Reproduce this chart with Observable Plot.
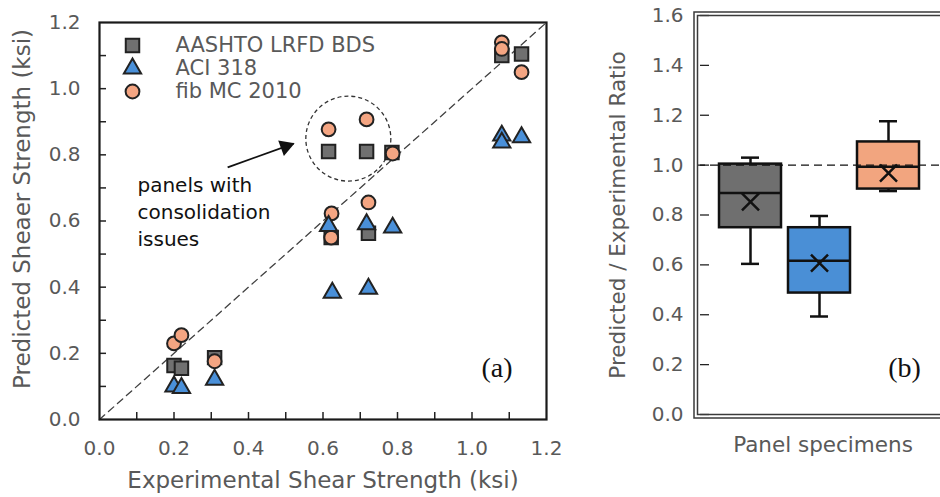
<!DOCTYPE html>
<html><head><meta charset="utf-8">
<script src="https://cdn.jsdelivr.net/npm/d3@7"></script>
<script src="https://cdn.jsdelivr.net/npm/@observablehq/plot@0.6"></script>
<style>
html,body{margin:0;padding:0;background:#fff;width:940px;height:497px;overflow:hidden;position:relative}
#a{position:absolute;left:0;top:0;width:560px;height:497px}
#b{position:absolute;left:580px;top:0;width:370px;height:497px}
svg{max-width:none !important}
</style></head><body>
<div id="a"></div><div id="b"></div>
<script>
// ---------- Panel (a) data ----------
const seriesNames = ["AASHTO LRFD BDS", "ACI 318", "fib MC 2010"];
const aashtoX = [0.200, 0.220, 0.309, 0.615, 0.717, 0.785, 0.622, 0.722, 1.080, 1.133];
const aashtoY = [0.163, 0.155, 0.187, 0.810, 0.810, 0.807, 0.550, 0.563, 1.100, 1.105];
const aciX    = [0.200, 0.220, 0.309, 0.615, 0.717, 0.787, 0.625, 0.722, 1.080, 1.080, 1.133];
const aciY    = [0.100, 0.095, 0.120, 0.585, 0.590, 0.580, 0.383, 0.395, 0.858, 0.837, 0.853];
const fibX    = [0.200, 0.220, 0.309, 0.615, 0.717, 0.787, 0.623, 0.622, 0.722, 1.080, 1.080, 1.133];
const fibY    = [0.230, 0.255, 0.176, 0.877, 0.907, 0.804, 0.623, 0.550, 0.656, 1.140, 1.120, 1.050];
const aTickValues = [0, 0.2, 0.4, 0.6, 0.8, 1.0, 1.2];
const aTickMarks = [0.1, 0.2, 0.3, 0.4, 0.5, 0.6, 0.7, 0.8, 0.9, 1.0, 1.1];
const equalityLine = [0, 1.2];
const xTitleA = "Experimental Shear Strength (ksi)";
const yTitleA = "Predicted Sheaer Strength (ksi)";
const noteText = "panels with\nconsolidation\nissues";
const noteAt = {x: 0.102, y: 0.632};
const highlightCircle = [{x: 0.668, y: 0.849}];
const noteArrow = [{x1: 0.344, y1: 0.762, x2: 0.521, y2: 0.834}];

// ---------- Panel (b) data ----------
const boxNames = ["AASHTO LRFD BDS", "ACI 318", "fib MC 2010"];
const whiskerLow  = [0.604, 0.393, 0.896];
const quart1      = [0.749, 0.487, 0.904];
const medians     = [0.888, 0.617, 0.993];
const quart3      = [1.004, 0.749, 1.093];
const whiskerHigh = [1.030, 0.796, 1.176];
const means       = [0.853, 0.607, 0.968];
const bTickValues = [0, 0.2, 0.4, 0.6, 0.8, 1.0, 1.2, 1.4, 1.6];
const refRatio = [1.0];
const xTitleB = "Panel specimens";
const yTitleB = "Predicted / Experimental Ratio";

// ---------- styles ----------
const FONT = "DejaVu Sans, Liberation Sans, sans-serif";
const GREYTXT = "#595959";
const colors = ["#707070", "#4a90d9", "#f4a582"];
const boxColors = ["#6f6f6f", "#4a8fd6", "#f2a57f"];
const symbols = ["square", "triangle", "circle"];
const radii = [7.6, 6.4, 6.9];
const MK = "#222";
const fmt = d3.format(".1f");

const pts = (xs, ys) => xs.map((x, i) => ({x, y: ys[i]}));
const series = [pts(aashtoX, aashtoY), pts(aciX, aciY), pts(fibX, fibY)];

const AW = 560, AH = 497, AM = {top: 22, right: 14, bottom: 78, left: 99};
const aFW = AW - AM.left - AM.right, aFH = AH - AM.top - AM.bottom;

const drawOrder = [0, 2, 1];
const legendMarks = [];
seriesNames.forEach((name, i) => {
  legendMarks.push(Plot.dot([name], {frameAnchor: "top-left", dx: 33, dy: 23 + 23 * i,
    symbol: symbols[i], r: radii[i], fill: colors[i], stroke: MK, strokeWidth: 2}));
  legendMarks.push(Plot.text([name], {frameAnchor: "top-left", dx: 76, dy: 23 + 23 * i,
    text: d => d, textAnchor: "start", lineAnchor: "middle", fontSize: 21, fill: GREYTXT}));
});

const plotA = Plot.plot({
  width: AW, height: AH,
  marginTop: AM.top, marginRight: AM.right, marginBottom: AM.bottom, marginLeft: AM.left,
  style: {fontFamily: FONT, fontSize: "20px", color: GREYTXT, background: "transparent", overflow: "visible", maxWidth: "none"},
  x: {domain: [0, 1.2]},
  y: {domain: [0, 1.2]},
  marks: [
    Plot.axisX(aTickValues, {tickSize: 0, tickPadding: 21, tickFormat: fmt, label: null, fontSize: 20, fill: GREYTXT}),
    Plot.axisY(aTickValues, {tickSize: 0, tickPadding: 19, tickFormat: fmt, label: null, fontSize: 20, fill: GREYTXT}),
    Plot.tickX(aTickMarks, {x: d => d, insetTop: aFH - 7, stroke: MK, strokeWidth: 1.5}),
    Plot.tickY(aTickMarks, {y: d => d, insetRight: aFW - 7, stroke: MK, strokeWidth: 1.5}),
    Plot.line(equalityLine, {x: d => d, y: d => d, stroke: "#404040", strokeWidth: 1.3, strokeDasharray: "7,5"}),
    Plot.dot(highlightCircle, {x: "x", y: "y", r: 42.5, fill: "none", stroke: "#333", strokeWidth: 1.3, strokeDasharray: "4,3"}),
    Plot.link(noteArrow, {x1: "x1", y1: "y1", x2: "x2", y2: "y2", stroke: "#111", strokeWidth: 1.8}),
    Plot.dot(noteArrow, {x: "x2", y: "y2", symbol: "triangle", r: 6.2, rotate: 70, fill: "#111", stroke: "none", dx: -8, dy: 3}),
    Plot.text([noteText], {x: noteAt.x, y: noteAt.y, text: d => d, textAnchor: "start", lineAnchor: "middle", lineHeight: 1.35, fontSize: 20, fill: "#111"}),
    ...drawOrder.map(i => Plot.dot(series[i], {x: "x", y: "y", symbol: symbols[i], r: radii[i], fill: colors[i], stroke: MK, strokeWidth: 2})),
    ...legendMarks,
    Plot.text(["(a)"], {frameAnchor: "bottom-right", dx: -34, dy: -51, text: d => d, textAnchor: "end", lineAnchor: "middle", fontFamily: "Liberation Serif, serif", fontSize: 28, fill: "#111"}),
    Plot.text([xTitleA], {frameAnchor: "bottom", dy: 61, text: d => d, textAnchor: "middle", lineAnchor: "middle", fontSize: 23, fill: GREYTXT}),
    Plot.text([yTitleA], {frameAnchor: "left", dx: -77, dy: -12, rotate: -90, text: d => d, textAnchor: "middle", lineAnchor: "middle", fontSize: 23, fill: GREYTXT}),
    Plot.frame({stroke: "#1a1a1a", strokeWidth: 2.2})
  ]
});
document.getElementById("a").appendChild(plotA);

// ---------- Panel (b) ----------
const boxes = boxNames.map((name, i) => ({
  name, lo: whiskerLow[i], q1: quart1[i], med: medians[i], q3: quart3[i], hi: whiskerHigh[i], mean: means[i], color: boxColors[i]
}));
const BW = 370, BH = 497, BM = {top: 15, right: 8, bottom: 83, left: 117};
const bFW = BW - BM.left - BM.right;

const plotB = Plot.plot({
  width: BW, height: BH,
  marginTop: BM.top, marginRight: BM.right, marginBottom: BM.bottom, marginLeft: BM.left,
  style: {fontFamily: FONT, fontSize: "20px", color: GREYTXT, background: "transparent", overflow: "visible", maxWidth: "none"},
  x: {type: "band", domain: boxNames, paddingInner: 0.1, paddingOuter: 0.31, axis: null},
  y: {domain: [0, 1.6]},
  marks: [
    Plot.axisY(bTickValues, {tickSize: 0, tickPadding: 14, tickFormat: fmt, label: null, fontSize: 20, fill: GREYTXT}),
    Plot.tickY(bTickValues, {y: d => d, insetLeft: 3, insetRight: bFW - 12, stroke: MK, strokeWidth: 1.3}),
    Plot.ruleX(boxes, {x: "name", y1: "lo", y2: "q1", stroke: "#111", strokeWidth: 2.5}),
    Plot.ruleX(boxes, {x: "name", y1: "q3", y2: "hi", stroke: "#111", strokeWidth: 2.5}),
    Plot.tickY(boxes, {x: "name", y: "lo", insetLeft: 22, insetRight: 22, stroke: "#111", strokeWidth: 2.5}),
    Plot.tickY(boxes, {x: "name", y: "hi", insetLeft: 22, insetRight: 22, stroke: "#111", strokeWidth: 2.5}),
    Plot.barY(boxes, {x: "name", y1: "q1", y2: "q3", fill: "color", stroke: "#111", strokeWidth: 2.5}),
    Plot.tickY(boxes, {x: "name", y: "med", stroke: "#111", strokeWidth: 2.5}),
    Plot.dot(boxes, {x: "name", y: "mean", symbol: "times", r: 7.8, stroke: "#111", strokeWidth: 2.5}),
    Plot.ruleY(refRatio, {stroke: "#111", strokeWidth: 1.2, strokeDasharray: "8,5"}),
    Plot.text(["(b)"], {frameAnchor: "bottom-left", dx: 207, dy: -46, text: d => d, textAnchor: "middle", lineAnchor: "middle", fontFamily: "Liberation Serif, serif", fontSize: 28, fill: "#111"}),
    Plot.text([xTitleB], {frameAnchor: "bottom", dx: 3, dy: 31, text: d => d, textAnchor: "middle", lineAnchor: "middle", fontSize: 21.5, fill: GREYTXT}),
    Plot.text([yTitleB], {frameAnchor: "left", dx: -79, rotate: -90, text: d => d, textAnchor: "middle", lineAnchor: "middle", fontSize: 21.5, fill: GREYTXT}),
    Plot.frame({stroke: "#3a3a3a", strokeWidth: 1.5}),
    Plot.frame({stroke: "#3a3a3a", strokeWidth: 1.5, inset: -3.5})
  ]
});
document.getElementById("b").appendChild(plotB);
</script>
</body></html>
